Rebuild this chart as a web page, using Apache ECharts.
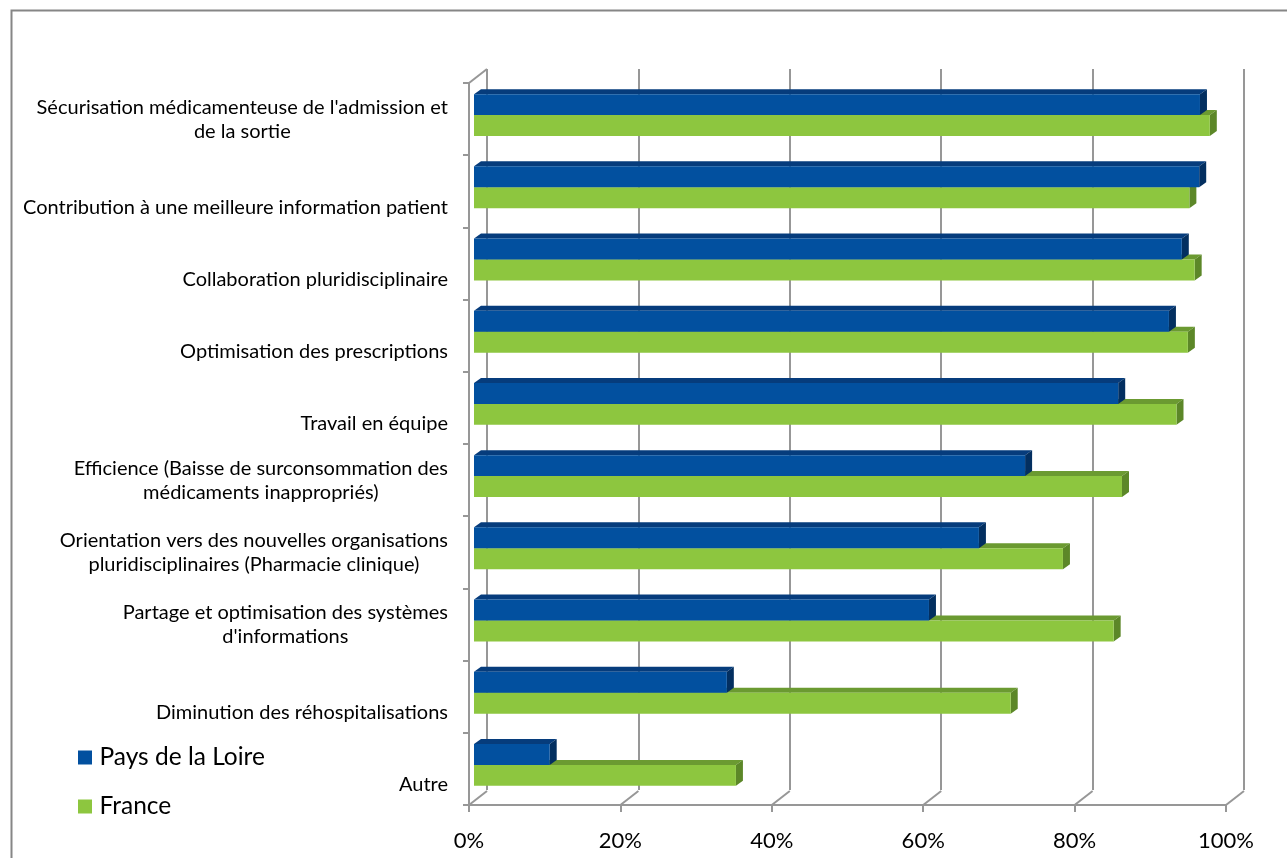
<!DOCTYPE html>
<html>
<head>
<meta charset="utf-8">
<script src="https://cdn.jsdelivr.net/npm/echarts@6/dist/echarts.min.js"></script>
<style>
  html, body { margin: 0; padding: 0; background: #ffffff; }
  #chart { width: 1287px; height: 858px; }
</style>
</head>
<body>
<div id="chart"></div>
<script>
// Categories, top to bottom
const categories = [
  "Sécurisation médicamenteuse de l'admission et\nde la sortie",
  "Contribution à une meilleure information patient",
  "Collaboration pluridisciplinaire",
  "Optimisation des prescriptions",
  "Travail en équipe",
  "Efficience (Baisse de surconsommation des\nmédicaments inappropriés)",
  "Orientation vers des nouvelles organisations\npluridisciplinaires (Pharmacie clinique)",
  "Partage et optimisation des systèmes\nd'informations",
  "Diminution des réhospitalisations",
  "Autre"
];

// Share of respondents (%)
const paysDeLaLoire = [95.9, 95.8, 93.5, 91.8, 85.1, 72.8, 66.7, 60.1, 33.4, 10.0];
const france        = [97.2, 94.5, 95.2, 94.3, 92.8, 85.6, 77.8, 84.5, 70.9, 34.6];

const percentTicks = [0, 20, 40, 60, 80, 100];
const seriesNames = ['Pays de la Loire', 'France'];

// Oblique 3D look: wall depth, bar position in depth and bar thickness
const WALL_DEPTH = [18, -14];
const BAR_SHIFT = [5, -4];
const BAR_DEPTH = [7, -5];
const BAR_RATIO = 0.29;
const FRAME_COLOR = '#979797';
const FONT = 'Lato, "Open Sans", sans-serif';

const blueFaces  = { front: '#02509f', top: '#063c7c', side: '#032f60' };
const greenFaces = { front: '#8dc63f', top: '#6b9a31', side: '#5c8728' };

function barRenderer(faces, upper) {
  return function (params, api) {
    const idx = api.value(1);
    const start = api.coord([0, idx]);
    const end = api.coord([api.value(0), idx]);
    const band = api.size([0, 1])[1];
    const h = band * BAR_RATIO;
    const yTop = (upper ? end[1] - h : end[1]) + BAR_SHIFT[1];
    const yBot = yTop + h;
    const x0 = start[0] + BAR_SHIFT[0];
    const x1 = end[0] + BAR_SHIFT[0];
    const dx = BAR_DEPTH[0], dy = BAR_DEPTH[1];
    return {
      type: 'group',
      children: [
        { type: 'polygon', shape: { points: [[x0, yTop], [x0 + dx, yTop + dy], [x1 + dx, yTop + dy], [x1, yTop]] }, style: { fill: faces.top } },
        { type: 'polygon', shape: { points: [[x1, yTop], [x1 + dx, yTop + dy], [x1 + dx, yBot + dy], [x1, yBot]] }, style: { fill: faces.side } },
        { type: 'rect', shape: { x: x0, y: yTop, width: x1 - x0, height: h }, style: { fill: faces.front } }
      ]
    };
  };
}

// Floor edges joining the front axis to the back wall
function frameRenderer(params, api) {
  const cs = params.coordSys;
  const x = api.coord([api.value(0), 0])[0];
  const yb = cs.y + cs.height;
  const line = (x1, y1) => ({
    type: 'line',
    shape: { x1: x1, y1: y1, x2: x1 + WALL_DEPTH[0], y2: y1 + WALL_DEPTH[1] },
    style: { stroke: FRAME_COLOR, lineWidth: 2 }
  });
  const children = [line(x, yb)];
  if (params.dataIndex === 0) children.push(line(cs.x, cs.y));
  return { type: 'group', children: children };
}

function labelFormatter(value) {
  const lines = value.split('\n');
  if (lines.length === 1) return '{s|' + value + '}';
  return lines.map(l => '{c|' + l + '}').join('\n');
}

const chart = echarts.init(document.getElementById('chart'), null, { renderer: 'canvas' });

chart.setOption({
  backgroundColor: '#ffffff',
  animation: false,
  graphic: [{
    type: 'rect', left: 9, top: 8, silent: true,
    shape: { width: 1300, height: 900 },
    style: { fill: null, stroke: '#868686', lineWidth: 2 }
  }],
  legend: {
    orient: 'vertical',
    left: 78, top: 745,
    padding: 0,
    itemWidth: 19, itemHeight: 14, itemGap: 24,
    textStyle: { fontFamily: FONT, fontSize: 24.5, color: '#000' },
    data: seriesNames.map(n => ({ name: n, icon: 'path://M0,0H14V14H0Z' }))
  },
  grid: [
    { left: 469, right: 61, top: 83, bottom: 53 },
    { left: 487, right: 43, top: 69, bottom: 68 }
  ],
  xAxis: [
    {
      gridIndex: 0, type: 'value', min: 0, max: 100, interval: 20,
      axisLine: { show: true, lineStyle: { color: FRAME_COLOR, width: 2 } },
      axisTick: { show: true, inside: false, length: 7, lineStyle: { color: FRAME_COLOR, width: 2 } },
      splitLine: { show: false },
      axisLabel: { formatter: '{value}%', fontFamily: FONT, fontSize: 22, color: '#000', margin: 25 }
    },
    {
      gridIndex: 1, type: 'value', min: 0, max: 100, interval: 20,
      axisLine: { show: false }, axisTick: { show: false }, axisLabel: { show: false },
      splitLine: { show: true, lineStyle: { color: FRAME_COLOR, width: 2 } }
    }
  ],
  yAxis: [
    {
      gridIndex: 0, type: 'category', inverse: true, data: categories,
      axisLine: { show: true, lineStyle: { color: FRAME_COLOR, width: 2 } },
      axisTick: { show: true, inside: false, length: 6, lineStyle: { color: FRAME_COLOR, width: 2 } },
      axisLabel: {
        margin: 21,
        align: 'right',
        formatter: labelFormatter,
        rich: {
          c: { align: 'center', fontFamily: FONT, fontSize: 20, lineHeight: 24, color: '#000' },
          s: { fontFamily: FONT, fontSize: 20, lineHeight: 24, color: '#000', padding: [32, 0, 0, 0] }
        }
      }
    },
    {
      gridIndex: 1, type: 'value', show: false, splitLine: { show: false }
    }
  ],
  series: [
    {
      name: 'frame', type: 'custom', xAxisIndex: 0, yAxisIndex: 0, silent: true, z: 1,
      renderItem: frameRenderer,
      data: percentTicks.map(t => [t, 0])
    },
    {
      name: seriesNames[1], type: 'custom', xAxisIndex: 0, yAxisIndex: 0, z: 2,
      color: greenFaces.front, itemStyle: { color: greenFaces.front },
      renderItem: barRenderer(greenFaces, false),
      encode: { x: 0, y: 1 },
      data: france.map((v, i) => [v, i])
    },
    {
      name: seriesNames[0], type: 'custom', xAxisIndex: 0, yAxisIndex: 0, z: 3,
      color: blueFaces.front, itemStyle: { color: blueFaces.front },
      renderItem: barRenderer(blueFaces, true),
      encode: { x: 0, y: 1 },
      data: paysDeLaLoire.map((v, i) => [v, i])
    }
  ]
});
</script>
</body>
</html>
